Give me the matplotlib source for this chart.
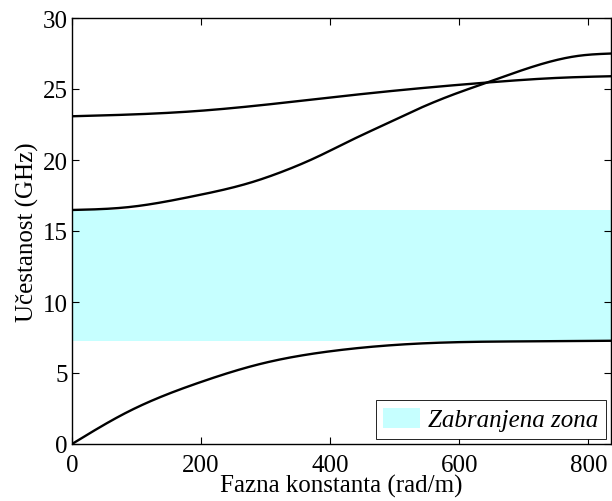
import matplotlib
matplotlib.use("Agg")
import matplotlib.pyplot as plt
import numpy as np
from matplotlib.patches import Patch

plt.rcParams['font.family'] = ['Liberation Serif', 'DejaVu Serif']
plt.rcParams['mathtext.fontset'] = 'stix'

# Data
beta1 = [0, 85, 198, 291, 400, 555, 709, 836]
f1 = [0.0, 2.23, 4.34, 5.63, 6.53, 7.11, 7.23, 7.27]

beta2 = [0, 85, 188, 276, 327, 379, 431, 482, 534, 586, 647, 709, 787, 836]
f2 = [16.48, 16.67, 17.45, 18.4, 19.2, 20.2, 21.36, 22.45, 23.55, 24.53,
      25.52, 26.5, 27.35, 27.5]

beta3 = [0, 188, 276, 400, 482, 647, 761, 836]
f3 = [23.08, 23.43, 23.78, 24.4, 24.8, 25.47, 25.8, 25.9]

band_low, band_high = 7.27, 16.5
legend_label = 'Zabranjena zona'
xlabel = 'Fazna konstanta (rad/m)'
ylabel = 'Učestanost (GHz)'
xticks = [0, 200, 400, 600, 800]
yticks = [0, 5, 10, 15, 20, 25, 30]

fig = plt.figure(figsize=(6.12, 5.02), dpi=100)
ax = fig.add_axes([72/612, 1-445/502, 539/612, 426/502])

ax.axhspan(band_low, band_high, color='#c6ffff', lw=0, zorder=0)

def smooth(x, y):
    """Natural cubic spline through the read points (display smoothing only)."""
    x = np.asarray(x, float); y = np.asarray(y, float)
    n = len(x)
    h = np.diff(x)
    A = np.zeros((n, n)); b = np.zeros(n)
    A[0, 0] = 1; A[-1, -1] = 1
    for i in range(1, n-1):
        A[i, i-1] = h[i-1]; A[i, i] = 2*(h[i-1] + h[i]); A[i, i+1] = h[i]
        b[i] = 6*((y[i+1]-y[i])/h[i] - (y[i]-y[i-1])/h[i-1])
    M = np.linalg.solve(A, b)
    xs = np.linspace(x.min(), x.max(), 500)
    idx = np.clip(np.searchsorted(x, xs) - 1, 0, n-2)
    x0 = x[idx]; x1 = x[idx+1]; hh = h[idx]
    ys = (M[idx]*(x1-xs)**3/(6*hh) + M[idx+1]*(xs-x0)**3/(6*hh)
          + (y[idx]/hh - M[idx]*hh/6)*(x1-xs) + (y[idx+1]/hh - M[idx+1]*hh/6)*(xs-x0))
    return xs, ys

for bx, fy in [(beta1, f1), (beta2, f2), (beta3, f3)]:
    xs, ys = smooth(bx, fy)
    ax.plot(xs, ys, color='black', lw=1.7)

ax.set_xlim(0, 835)
ax.set_ylim(0, 30)
ax.set_xticks(xticks)
ax.set_yticks(yticks)
ax.tick_params(direction='in', top=True, right=True, labelsize=18, length=5, width=0.8)
ax.tick_params(axis='x', pad=7)
ax.tick_params(axis='y', pad=3)
ax.set_xlabel(xlabel, fontsize=18, labelpad=-1)
ax.set_ylabel(ylabel, fontsize=18, labelpad=3)
for s in ax.spines.values():
    s.set_linewidth(1.0)

leg = ax.legend(handles=[Patch(facecolor='#c6ffff', edgecolor='none', label=legend_label)],
                loc='lower right', prop={'style': 'italic', 'size': 18},
                fancybox=False, edgecolor='black', framealpha=1,
                borderaxespad=0.2, handlelength=1.45, handleheight=0.9,
                borderpad=0.3, handletextpad=0.35)
leg.get_frame().set_linewidth(0.6)

fig.savefig('out.png', dpi=100)
